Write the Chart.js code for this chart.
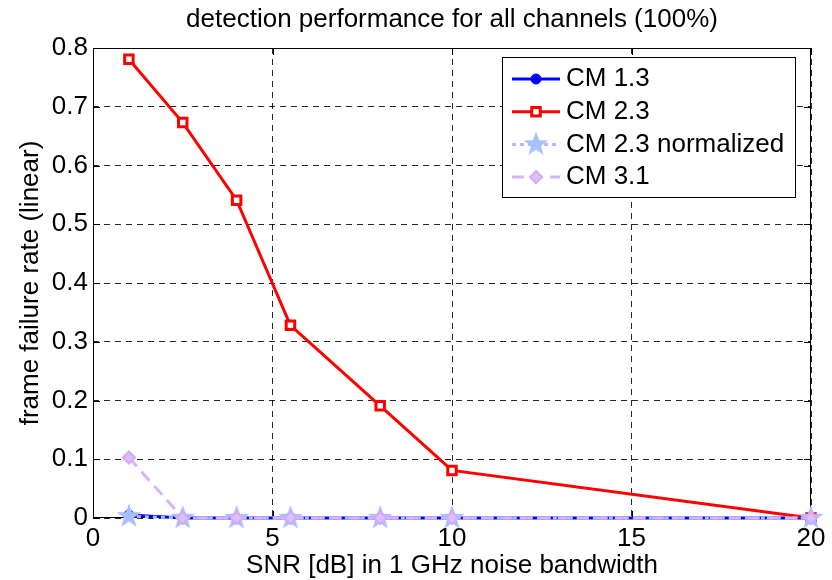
<!DOCTYPE html>
<html>
<head>
<meta charset="utf-8">
<script src="https://cdn.jsdelivr.net/npm/chart.js@4/dist/chart.umd.min.js"></script>
<style>
  html, body { margin: 0; padding: 0; background: #ffffff; }
  #wrap { width: 832px; height: 580px; }
</style>
</head>
<body>
<div id="wrap"><canvas id="c" width="832" height="580"></canvas></div>
<script>
// ---- data ----
const snr = [1, 2.5, 4, 5.5, 8, 10, 20];
const cm13 = [0.005, 0, 0, 0, 0, 0, 0];
const cm23 = [0.781, 0.673, 0.541, 0.328, 0.191, 0.081, 0];
const cm23norm = [0.003, 0, 0, 0, 0, 0, 0];
const cm31 = [0.103, 0, 0, 0, 0, 0, 0];
const seriesNames = ['CM 1.3', 'CM 2.3', 'CM 2.3 normalized', 'CM 3.1'];
const xTicks = [0, 5, 10, 15, 20];
const yTicks = [0, 0.1, 0.2, 0.3, 0.4, 0.5, 0.6, 0.7, 0.8];
const titleText = 'detection performance for all channels (100%)';
const xTitle = 'SNR [dB] in 1 GHz noise bandwidth';
const yTitle = 'frame failure rate (linear)';

const FONT = "'Liberation Sans', Arial, Helvetica, sans-serif";
Chart.defaults.font.family = FONT;
Chart.defaults.color = '#000';

function makeStar(R, r, color) {
  const c = document.createElement('canvas');
  const s = Math.ceil(2 * R + 2);
  c.width = s; c.height = s;
  const g = c.getContext('2d');
  g.fillStyle = color;
  g.beginPath();
  for (let i = 0; i < 10; i++) {
    const rad = (i % 2) ? r : R;
    const a = -Math.PI / 2 + i * Math.PI / 5;
    g.lineTo(s / 2 + rad * Math.cos(a), s / 2 + rad * Math.sin(a));
  }
  g.closePath();
  g.fill();
  return c;
}
const starImg = makeStar(13, 5.2, '#aabfff');

const toXY = (ys) => ys.map((v, i) => ({ x: snr[i], y: v }));

const datasets = [
  { label: seriesNames[0], data: toXY(cm13), borderColor: '#0000ff', borderWidth: 3,
    pointStyle: 'circle', pointRadius: 5, pointBackgroundColor: '#0000ff', pointBorderColor: '#0000ff',
    pointBorderWidth: 1, borderDash: [], order: 4 },
  { label: seriesNames[1], data: toXY(cm23), borderColor: '#ff0000', borderWidth: 3,
    pointStyle: 'rect', pointRadius: 6, pointBackgroundColor: '#ffffff', pointBorderColor: '#ff0000',
    pointBorderWidth: 3, borderDash: [], order: 3 },
  { label: seriesNames[2], data: toXY(cm23norm), borderColor: '#aabfff', borderWidth: 3,
    pointStyle: starImg, pointRadius: 13, borderDash: [4, 4], order: 2 },
  { label: seriesNames[3], data: toXY(cm31), borderColor: '#d8b4fa', borderWidth: 3,
    pointStyle: 'rectRot', pointRadius: 6, pointBackgroundColor: '#dcc0fb', pointBorderColor: '#d2aaf8',
    pointBorderWidth: 2, borderDash: [12, 7], order: 1 }
];

function drawMarker(ctx, ds, x, y) {
  const st = ds.pointStyle;
  ctx.save();
  if (typeof st === 'object') {
    ctx.drawImage(st, x - st.width / 2, y - st.height / 2);
  } else {
    ctx.fillStyle = ds.pointBackgroundColor;
    ctx.strokeStyle = ds.pointBorderColor;
    ctx.lineWidth = ds.pointBorderWidth;
    const r = ds.pointRadius;
    ctx.beginPath();
    if (st === 'circle') {
      ctx.arc(x, y, r, 0, Math.PI * 2);
    } else if (st === 'rect') {
      const s = Math.SQRT1_2 * r;
      ctx.rect(x - s, y - s, 2 * s, 2 * s);
    } else if (st === 'rectRot') {
      ctx.moveTo(x - r, y); ctx.lineTo(x, y - r); ctx.lineTo(x + r, y); ctx.lineTo(x, y + r); ctx.closePath();
    }
    ctx.fill();
    ctx.stroke();
  }
  ctx.restore();
}

const framePlugin = {
  id: 'frame',
  beforeDatasetsDraw(chart) {
    const { ctx, chartArea: a, scales } = chart;
    ctx.save();
    ctx.strokeStyle = '#000';
    ctx.lineWidth = 1;
    ctx.setLineDash([]);
    ctx.strokeRect(a.left + 0.5, a.top + 0.5, a.right - a.left - 1, a.bottom - a.top - 1);
    const tl = 7;
    ctx.beginPath();
    scales.x.ticks.forEach(t => {
      const px = Math.round(scales.x.getPixelForValue(t.value)) + 0.5;
      ctx.moveTo(px, a.bottom); ctx.lineTo(px, a.bottom - tl);
      ctx.moveTo(px, a.top); ctx.lineTo(px, a.top + tl);
    });
    scales.y.ticks.forEach(t => {
      const py = Math.round(scales.y.getPixelForValue(t.value)) + 0.5;
      ctx.moveTo(a.left, py); ctx.lineTo(a.left + tl, py);
      ctx.moveTo(a.right, py); ctx.lineTo(a.right - tl, py);
    });
    ctx.stroke();
    ctx.restore();
  }
};

const legendPlugin = {
  id: 'matlabLegend',
  afterDraw(chart) {
    const { ctx, chartArea: a } = chart;
    const dsList = chart.data.datasets;
    const boxR = a.right - 16, boxT = a.top + 9;
    const boxW = 293, boxH = 140;
    const boxL = boxR - boxW;
    ctx.save();
    ctx.fillStyle = '#fff';
    ctx.fillRect(boxL, boxT, boxW, boxH);
    ctx.strokeStyle = '#000';
    ctx.lineWidth = 1;
    ctx.strokeRect(boxL + 0.5, boxT + 0.5, boxW, boxH);
    const rowY0 = boxT + 22, rowStep = 32.7;
    dsList.forEach((ds, i) => {
      const y = rowY0 + i * rowStep;
      const x1 = boxL + 10, x2 = boxL + 58, xm = (x1 + x2) / 2;
      ctx.save();
      ctx.strokeStyle = ds.borderColor;
      ctx.lineWidth = ds.borderWidth;
      ctx.setLineDash(ds.borderDash || []);
      ctx.beginPath(); ctx.moveTo(x1, y); ctx.lineTo(x2, y); ctx.stroke();
      ctx.restore();
      drawMarker(ctx, ds, xm, y);
      ctx.fillStyle = '#000';
      ctx.font = '26px ' + FONT;
      ctx.textBaseline = 'middle';
      ctx.textAlign = 'left';
      ctx.fillText(ds.label, boxL + 64, y);
    });
    ctx.restore();
  }
};

new Chart(document.getElementById('c'), {
  type: 'line',
  data: { datasets },
  options: {
    responsive: false,
    animation: false,
    devicePixelRatio: 1,
    layout: { padding: { left: 0, right: 21, top: 0, bottom: 0 } },
    datasets: { line: { clip: false, tension: 0, fill: false } },
    plugins: {
      legend: { display: false },
      tooltip: { enabled: false },
      title: {
        display: true, text: titleText, color: '#000', fullSize: false,
        font: { size: 26, weight: 'normal', lineHeight: 1.2 },
        padding: { top: 4.4, bottom: 12.4 }
      }
    },
    scales: {
      x: {
        type: 'linear', min: 0, max: 20,
        afterBuildTicks: (s) => { s.ticks = xTicks.map(v => ({ value: v })); },
        ticks: { font: { size: 26 }, color: '#000', padding: 5, maxRotation: 0, autoSkip: false },
        grid: { color: 'rgba(0,0,0,0.85)', lineWidth: 1, drawTicks: false },
        border: { display: false, dash: [6, 5] },
        title: { display: true, text: xTitle, color: '#000',
                 font: { size: 26, lineHeight: 1.1 }, padding: { top: 0, bottom: 0 } },
        afterFit: (s) => { s.height = 62; }
      },
      y: {
        type: 'linear', min: 0, max: 0.8,
        afterBuildTicks: (s) => { s.ticks = yTicks.map(v => ({ value: v })); },
        ticks: { font: { size: 26 }, color: '#000', padding: 5, autoSkip: false,
                 callback: (v) => String(Math.round(v * 10) / 10) },
        grid: { color: 'rgba(0,0,0,0.85)', lineWidth: 1, drawTicks: false },
        border: { display: false, dash: [6, 5] },
        title: { display: true, text: yTitle, color: '#000',
                 font: { size: 26, lineHeight: 1.2 }, padding: { top: 15.4, bottom: 0 } },
        afterFit: (s) => { s.width = 93; }
      }
    }
  },
  plugins: [framePlugin, legendPlugin]
});
</script>
</body>
</html>
